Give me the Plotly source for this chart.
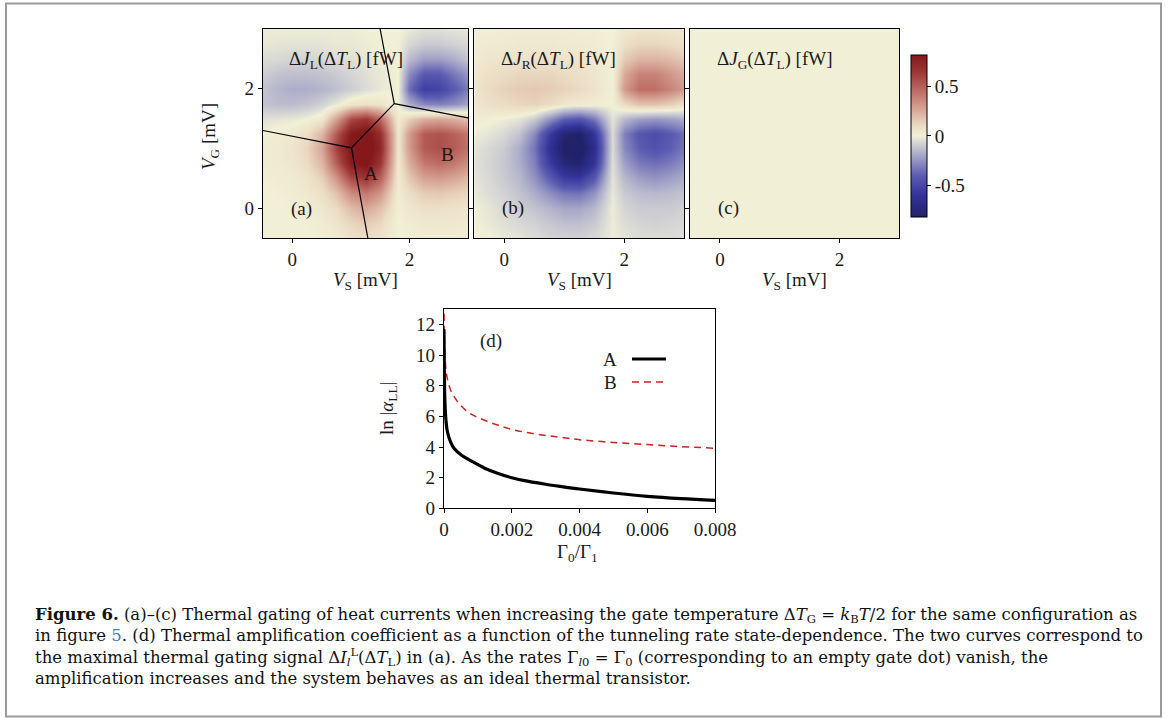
import plotly.graph_objects as go

W, H = 1174, 718

# ---------------- data ----------------
vs_grid = [-0.5, -0.25, 0.0, 0.25, 0.5, 0.75, 1.0, 1.25, 1.5, 1.8, 2.0, 2.25, 2.5, 2.75, 3.0]
vg_grid = [-0.5, -0.25, 0.0, 0.25, 0.5, 0.75, 1.0, 1.25, 1.5, 1.75, 2.0, 2.25, 2.5, 2.75, 3.0]

# Delta J_L (Delta T_L) [fW], rows = V_G (bottom -> top), cols = V_S
dJL = [
    [0.00, 0.00, 0.00, 0.00, 0.01, 0.03, 0.07, 0.09, 0.07, 0.00, 0.01, 0.02, 0.02, 0.02, 0.02],
    [0.00, 0.00, 0.00, 0.01, 0.02, 0.06, 0.12, 0.15, 0.11, 0.00, 0.02, 0.04, 0.04, 0.04, 0.03],
    [0.00, 0.00, 0.01, 0.02, 0.05, 0.10, 0.20, 0.26, 0.19, 0.01, 0.05, 0.08, 0.08, 0.07, 0.06],
    [0.00, 0.01, 0.02, 0.04, 0.08, 0.18, 0.35, 0.42, 0.32, 0.02, 0.09, 0.15, 0.16, 0.14, 0.11],
    [0.01, 0.02, 0.03, 0.06, 0.14, 0.32, 0.58, 0.66, 0.50, 0.03, 0.16, 0.28, 0.30, 0.27, 0.21],
    [0.02, 0.03, 0.05, 0.10, 0.22, 0.50, 0.80, 0.86, 0.66, 0.04, 0.24, 0.42, 0.46, 0.42, 0.34],
    [0.02, 0.03, 0.06, 0.12, 0.27, 0.60, 0.86, 0.90, 0.74, 0.05, 0.30, 0.52, 0.56, 0.52, 0.44],
    [0.01, 0.02, 0.04, 0.09, 0.22, 0.52, 0.82, 0.88, 0.70, 0.05, 0.30, 0.52, 0.55, 0.50, 0.42],
    [-0.04, -0.03, -0.02, 0.00, 0.05, 0.28, 0.58, 0.66, 0.48, 0.03, 0.14, 0.24, 0.26, 0.24, 0.18],
    [-0.12, -0.14, -0.14, -0.12, -0.08, -0.02, 0.05, 0.08, 0.06, 0.00, -0.18, -0.28, -0.30, -0.27, -0.20],
    [-0.12, -0.16, -0.18, -0.18, -0.16, -0.13, -0.09, -0.05, -0.02, 0.00, -0.35, -0.55, -0.52, -0.42, -0.32],
    [-0.09, -0.12, -0.13, -0.13, -0.12, -0.10, -0.07, -0.04, -0.02, 0.00, -0.27, -0.42, -0.42, -0.33, -0.24],
    [-0.05, -0.06, -0.07, -0.07, -0.06, -0.05, -0.04, -0.02, -0.01, 0.00, -0.14, -0.22, -0.22, -0.18, -0.12],
    [-0.02, -0.03, -0.03, -0.03, -0.03, -0.02, -0.02, -0.01, 0.00, 0.00, -0.06, -0.10, -0.10, -0.08, -0.06],
    [-0.01, -0.01, -0.01, -0.01, -0.01, -0.01, -0.01, 0.00, 0.00, 0.00, -0.02, -0.04, -0.04, -0.03, -0.02],
]

# Delta J_R (Delta T_L) [fW]
dJR = [
    [0.00, 0.00, -0.02, -0.03, -0.05, -0.07, -0.08, -0.08, -0.06, -0.01, -0.03, -0.05, -0.05, -0.05, -0.04],
    [0.00, -0.02, -0.04, -0.06, -0.08, -0.11, -0.13, -0.13, -0.10, -0.01, -0.05, -0.07, -0.08, -0.07, -0.06],
    [0.00, -0.03, -0.06, -0.09, -0.12, -0.16, -0.20, -0.20, -0.15, -0.01, -0.07, -0.10, -0.10, -0.10, -0.08],
    [-0.02, -0.05, -0.08, -0.12, -0.18, -0.26, -0.33, -0.34, -0.25, -0.02, -0.10, -0.14, -0.15, -0.14, -0.12],
    [-0.03, -0.06, -0.10, -0.15, -0.25, -0.40, -0.56, -0.58, -0.42, -0.03, -0.15, -0.22, -0.25, -0.22, -0.18],
    [-0.04, -0.07, -0.11, -0.18, -0.30, -0.55, -0.76, -0.80, -0.60, -0.04, -0.22, -0.32, -0.35, -0.32, -0.26],
    [-0.03, -0.06, -0.10, -0.18, -0.33, -0.62, -0.85, -0.88, -0.66, -0.05, -0.28, -0.40, -0.45, -0.40, -0.33],
    [-0.01, -0.03, -0.06, -0.12, -0.28, -0.55, -0.78, -0.82, -0.60, -0.05, -0.30, -0.43, -0.47, -0.42, -0.35],
    [0.02, 0.01, -0.01, -0.03, -0.10, -0.25, -0.40, -0.44, -0.32, -0.03, -0.15, -0.22, -0.24, -0.22, -0.18],
    [0.05, 0.08, 0.10, 0.12, 0.13, 0.10, 0.05, 0.03, 0.02, 0.00, 0.10, 0.18, 0.18, 0.15, 0.08],
    [0.06, 0.10, 0.13, 0.15, 0.16, 0.15, 0.13, 0.10, 0.06, 0.00, 0.30, 0.45, 0.45, 0.38, 0.30],
    [0.05, 0.08, 0.10, 0.12, 0.12, 0.12, 0.10, 0.08, 0.05, 0.00, 0.25, 0.38, 0.38, 0.32, 0.25],
    [0.03, 0.05, 0.06, 0.07, 0.07, 0.07, 0.06, 0.05, 0.03, 0.00, 0.15, 0.22, 0.22, 0.20, 0.15],
    [0.02, 0.03, 0.03, 0.04, 0.04, 0.04, 0.03, 0.03, 0.02, 0.00, 0.08, 0.12, 0.12, 0.10, 0.08],
    [0.01, 0.01, 0.02, 0.02, 0.02, 0.02, 0.02, 0.01, 0.01, 0.00, 0.04, 0.06, 0.06, 0.05, 0.04],
]

# Delta J_G (Delta T_L) [fW]: read as zero everywhere
dJG = [[0.0] * len(vs_grid) for _ in vg_grid]

# boundary lines drawn in panel (a)
boundary_vs = [-0.5, 1.01, 1.29, None, 1.01, 1.74, 1.50, None, 1.74, 3.0]
boundary_vg = [1.30, 1.01, -0.5, None, 1.01, 1.75, 3.0, None, 1.75, 1.51]

# panel (d)
gamma_ratio = [0.0, 0.00001, 0.00003, 0.00006, 0.0001, 0.0002, 0.0003, 0.0005, 0.0008,
               0.0012, 0.0016, 0.002, 0.0025, 0.003, 0.0035, 0.004, 0.005, 0.006, 0.007, 0.008]
ln_alpha_A = [11.7, 8.8, 6.8, 5.7, 5.0, 4.3, 3.9, 3.5, 3.1,
              2.62, 2.28, 2.0, 1.76, 1.57, 1.41, 1.26, 1.0, 0.78, 0.63, 0.52]
ln_alpha_B = [13.5, 11.0, 9.9, 9.0, 8.45, 7.7, 7.3, 6.7, 6.15,
              5.75, 5.42, 5.15, 4.93, 4.76, 4.62, 4.48, 4.3, 4.16, 4.03, 3.92]

vs_ticks = [0, 2]
vg_ticks = [0, 2]
cbar_ticks = [-0.5, 0, 0.5]
cbar_ticktext = ["-0.5", "0", "0.5"]
d_xticks = [0, 0.002, 0.004, 0.006, 0.008]
d_xticktext = ["0", "0.002", "0.004", "0.006", "0.008"]
d_yticks = [0, 2, 4, 6, 8, 10, 12]

# ---------------- helpers ----------------
def px(x):
    return x / W

def py(y):
    return 1 - y / H

SERIF = "Liberation Serif"
INK = "#1a1a1a"
tickfont = dict(family=SERIF, size=19, color=INK)

colorscale = [
    [0.000, "#22226a"],
    [0.134, "#33339a"],
    [0.256, "#5c5cb2"],
    [0.378, "#a6a6c8"],
    [0.470, "#dcdcd6"],
    [0.500, "#f1f0d6"],
    [0.561, "#ebdcc4"],
    [0.652, "#d9ab9c"],
    [0.774, "#bf6e66"],
    [0.896, "#9c3634"],
    [1.000, "#84181b"],
]

fig = go.Figure()

for i, z in enumerate([dJL, dJR, dJG]):
    suffix = "" if i == 0 else str(i + 1)
    fig.add_trace(go.Heatmap(
        x=vs_grid, y=vg_grid, z=z, coloraxis="coloraxis", zsmooth="best",
        xaxis="x" + suffix, yaxis="y" + suffix, hoverinfo="skip"))

fig.add_trace(go.Scatter(
    x=boundary_vs, y=boundary_vg, mode="lines", xaxis="x", yaxis="y",
    line=dict(color="black", width=1.2), showlegend=False, hoverinfo="skip"))

fig.add_trace(go.Scatter(
    x=gamma_ratio, y=ln_alpha_B, mode="lines", xaxis="x4", yaxis="y4", name="B",
    line=dict(color="#cc2222", width=1.5, dash="7px,5px", shape="spline"), showlegend=False))
fig.add_trace(go.Scatter(
    x=gamma_ratio, y=ln_alpha_A, mode="lines", xaxis="x4", yaxis="y4", name="A",
    line=dict(color="black", width=3.2, shape="spline"), showlegend=False))

heat_x_domains = [(263, 468), (474.3, 684.3), (690, 899.3)]
heat_y_dom = [py(238), py(29)]

axis_common = dict(showline=True, linecolor="black", linewidth=1.2, mirror=True,
                   ticks="outside", ticklen=4, tickcolor="black", tickfont=tickfont,
                   showgrid=False, zeroline=False, automargin=False)

layout = dict(
    width=W, height=H, autosize=False,
    margin=dict(l=0, r=0, t=0, b=0, pad=0, autoexpand=False),
    paper_bgcolor="white", plot_bgcolor="white", showlegend=False,
    coloraxis=dict(
        colorscale=colorscale, cmin=-0.82, cmax=0.82,
        colorbar=dict(
            x=px(910.7), xanchor="left", xpad=0, ypad=0,
            y=py(135.85), yanchor="middle", len=161.7 / H, lenmode="fraction",
            thickness=16, thicknessmode="pixels",
            outlinewidth=1, outlinecolor="black",
            tickvals=cbar_ticks, ticktext=cbar_ticktext, ticks="outside", ticklen=4,
            tickcolor="black", tickfont=tickfont,
        ),
    ),
)

for i, (x0, x1) in enumerate(heat_x_domains):
    suffix = "" if i == 0 else str(i + 1)
    layout["xaxis" + suffix] = dict(axis_common, domain=[px(x0), px(x1)], range=[-0.5, 3.0],
                                    tickvals=vs_ticks, anchor="y" + suffix)
    layout["yaxis" + suffix] = dict(axis_common, domain=heat_y_dom, range=[-0.5, 3.0],
                                    tickvals=vg_ticks, anchor="x" + suffix,
                                    showticklabels=(i == 0))

layout["xaxis4"] = dict(axis_common, domain=[px(444), px(715)], range=[0, 0.008],
                        tickvals=d_xticks, ticktext=d_xticktext, anchor="y4")
layout["yaxis4"] = dict(axis_common, domain=[py(508.3), py(309.3)], range=[0, 13],
                        tickvals=d_yticks, anchor="x4")

fig.update_layout(**layout)

ann = []

def text(x, y, s, size=19, **kw):
    d = dict(x=px(x), y=py(y), xref="paper", yref="paper", text=s, showarrow=False,
             xanchor="center", yanchor="middle",
             font=dict(family=SERIF, size=size, color=INK))
    d.update(kw)
    ann.append(d)

# panel titles
text(287, 60, "Δ<i>J</i><sub>L</sub>(Δ<i>T</i><sub>L</sub>) [fW]", xanchor="left")
text(499, 60, "Δ<i>J</i><sub>R</sub>(Δ<i>T</i><sub>L</sub>) [fW]", xanchor="left")
text(715, 60, "Δ<i>J</i><sub>G</sub>(Δ<i>T</i><sub>L</sub>) [fW]", xanchor="left")
# panel labels
text(301, 209, "(a)")
text(513, 208, "(b)")
text(728, 208, "(c)")
text(371, 173, "A")
text(447, 155, "B")
text(491, 341, "(d)")
# axis titles
text(210, 137, "<i>V</i><sub>G</sub> [mV]", textangle=-90)
for cx in [365.5, 579.3, 794.6]:
    text(cx, 281, "<i>V</i><sub>S</sub> [mV]")
text(388, 409, "ln |<i>α</i><sub>LL</sub>|", textangle=-90)
text(577, 553, "Γ<sub>0</sub>/Γ<sub>1</sub>")
# legend of (d)
text(610, 359, "A")
text(610, 382, "B")

caption = ("<b>Figure 6.</b> (a)–(c) Thermal gating of heat currents when increasing the gate temperature "
           "Δ<i>T</i><sub>G</sub> = <i>k</i><sub>B</sub><i>T</i>/2 for the same configuration as<br>"
           "in figure <span style='color:#3b7fc4'>5</span>. (d) Thermal amplification coefficient as a function "
           "of the tunneling rate state-dependence. The two curves correspond to<br>"
           "the maximal thermal gating signal Δ<i>I</i><sub><i>l</i></sub><sup>L</sup>(Δ<i>T</i><sub>L</sub>) in (a). "
           "As the rates Γ<sub><i>l</i>0</sub> = Γ<sub>0</sub> (corresponding to an empty gate dot) vanish, the<br>"
           "amplification increases and the system behaves as an ideal thermal transistor.")
ann.append(dict(x=px(33), y=py(603), xref="paper", yref="paper", text=caption, showarrow=False,
                xanchor="left", yanchor="top", align="left",
                font=dict(family="DejaVu Serif", size=16.5, color="#111")))

fig.update_layout(annotations=ann)

shapes = [
    dict(type="rect", xref="paper", yref="paper", x0=px(6), x1=px(1161), y0=py(716.5), y1=py(3.5),
         line=dict(color="#9a9a9a", width=2)),
    dict(type="line", xref="paper", yref="paper", x0=px(632), x1=px(666), y0=py(359), y1=py(359),
         line=dict(color="black", width=3.2)),
    dict(type="line", xref="paper", yref="paper", x0=px(632), x1=px(666), y0=py(382), y1=py(382),
         line=dict(color="#cc2222", width=1.5, dash="7px,5px")),
]
fig.update_layout(shapes=shapes)

fig.write_html("out.html", config={"displayModeBar": False},
               post_script="document.body.style.margin='0';document.body.style.overflow='hidden';")
